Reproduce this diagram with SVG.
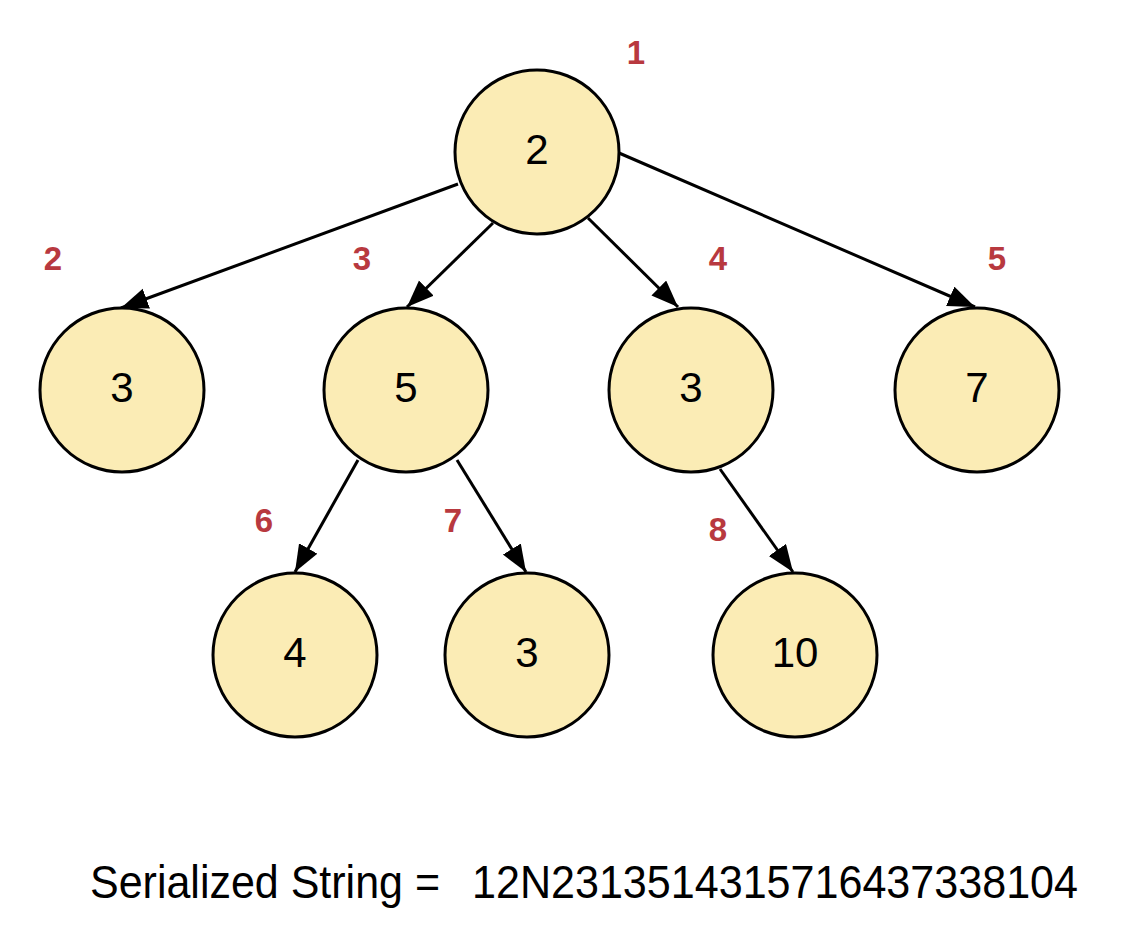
<svg xmlns="http://www.w3.org/2000/svg" width="1126" height="936" viewBox="0 0 1126 936">
<style>
.node circle{fill:#fbecb5;stroke:#000;stroke-width:3}
.node text{font-family:"Liberation Sans",Arial,sans-serif;font-size:42px;fill:#000;text-anchor:middle}
.lbl{font-family:"Liberation Sans",Arial,sans-serif;font-size:33px;font-weight:bold;fill:#b8393f;text-anchor:middle}
.edge{stroke:#000;stroke-width:3;fill:none;marker-end:url(#arr)}
.serial{font-family:"Liberation Sans",Arial,sans-serif;font-size:46px;fill:#000}
</style>
<defs>
<marker id="arr" markerUnits="userSpaceOnUse" markerWidth="30" markerHeight="24" refX="27" refY="10.5" orient="auto">
<path d="M0,0 L27,10.5 L0,21 z" fill="#000"/>
</marker>
</defs>
<rect width="1126" height="936" fill="#fff"/>
<g id="connectors">
<line class="edge" x1="458" y1="184" x2="121" y2="308"/>
<line class="edge" x1="493" y1="223" x2="407" y2="307"/>
<line class="edge" x1="588" y1="218" x2="678" y2="307"/>
<line class="edge" x1="619" y1="153" x2="975" y2="307"/>
<line class="edge" x1="358" y1="460" x2="295" y2="572"/>
<line class="edge" x1="457" y1="460" x2="526" y2="572"/>
<line class="edge" x1="720" y1="469" x2="793" y2="572"/>
</g>
<g id="labels">
<text class="lbl" x="636" y="64">1</text>
<text class="lbl" x="53" y="270">2</text>
<text class="lbl" x="362" y="270">3</text>
<text class="lbl" x="718" y="270">4</text>
<text class="lbl" x="997" y="270">5</text>
<text class="lbl" x="264" y="532">6</text>
<text class="lbl" x="453" y="532">7</text>
<text class="lbl" x="718" y="541">8</text>
</g>
<g id="n1" class="node"><circle cx="537" cy="152" r="82"/><text x="537" y="164">2</text></g>
<g id="n2" class="node"><circle cx="122" cy="390" r="82"/><text x="122" y="402">3</text></g>
<g id="n3" class="node"><circle cx="406" cy="390" r="82"/><text x="406" y="402">5</text></g>
<g id="n4" class="node"><circle cx="691" cy="390" r="82"/><text x="691" y="402">3</text></g>
<g id="n5" class="node"><circle cx="977" cy="390" r="82"/><text x="977" y="402">7</text></g>
<g id="n6" class="node"><circle cx="295" cy="655" r="82"/><text x="295" y="667">4</text></g>
<g id="n7" class="node"><circle cx="527" cy="655" r="82"/><text x="527" y="667">3</text></g>
<g id="n8" class="node"><circle cx="795" cy="655" r="82"/><text x="795" y="667">10</text></g>
<g id="serial">
<text class="serial" x="90" y="898" textLength="350" lengthAdjust="spacingAndGlyphs">Serialized String =</text>
<text class="serial" x="472" y="898" textLength="606" lengthAdjust="spacingAndGlyphs">12N2313514315716437338104</text>
</g>
</svg>
